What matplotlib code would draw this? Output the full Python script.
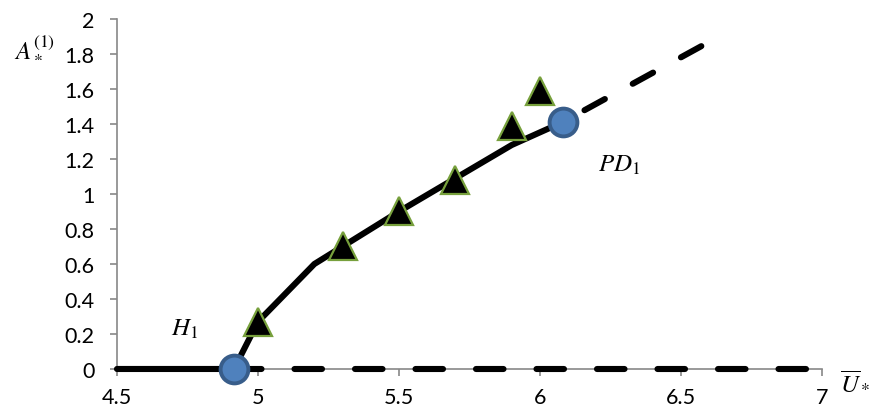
import matplotlib.pyplot as plt
import numpy as np

plt.rcParams['font.family'] = ['Lato', 'DejaVu Sans']
plt.rcParams['mathtext.fontset'] = 'stix'

# stable branch (solid) and unstable branches (dashed)
solid_x = [4.5, 4.915, 5.0, 5.2, 5.3, 5.5, 5.7, 5.9, 6.08]
solid_y = [0.0, 0.0, 0.27, 0.6, 0.7, 0.9, 1.09, 1.28, 1.41]
upper_dash_x = [6.08, 6.595]
upper_dash_y = [1.41, 1.865]
zero_dash_x = [4.915, 6.95]
zero_dash_y = [0.0, 0.0]

# numerical points (triangles)
tri_x = [5.0, 5.3, 5.5, 5.7, 5.9, 6.0]
tri_y = [0.27, 0.70, 0.90, 1.08, 1.39, 1.59]

# bifurcation points
bif_x = [4.915, 6.08]
bif_y = [0.0, 1.41]

xticks = [4.5, 5, 5.5, 6, 6.5, 7]
xtick_labels = ['4.5', '5', '5.5', '6', '6.5', '7']
yticks = [0, 0.2, 0.4, 0.6, 0.8, 1, 1.2, 1.4, 1.6, 1.8, 2]
ytick_labels = ['0', '0.2', '0.4', '0.6', '0.8', '1', '1.2', '1.4', '1.6', '1.8', '2']

fig = plt.figure(figsize=(8.71, 4.10), dpi=100)
ax = fig.add_axes([0.1343, 0.0976, 0.8094, 0.8536])

lw = 4.4
ax.plot(solid_x, solid_y, color='k', lw=lw, solid_capstyle='round', solid_joinstyle='round', zorder=3, clip_on=False)
ax.plot(upper_dash_x, upper_dash_y, color='k', lw=lw, linestyle=(4.9, (3.8, 5.2)), dash_capstyle='round',
        zorder=3, clip_on=False)
ax.plot(zero_dash_x, zero_dash_y, color='k', lw=lw, dashes=(4.5, 5.4), dash_capstyle='round', zorder=3, clip_on=False)

ax.plot(tri_x, tri_y, linestyle='', marker='^', markersize=20, markerfacecolor='k',
        markeredgecolor='#77a03c', markeredgewidth=1.6, zorder=4, clip_on=False)
ax.plot(bif_x, bif_y, linestyle='', marker='o', markersize=20, markerfacecolor='#4f81bd',
        markeredgecolor='#385d8a', markeredgewidth=2.8, zorder=5, clip_on=False)

ax.set_xlim(4.5, 7)
ax.set_ylim(0, 2)
ax.set_xticks(xticks)
ax.set_xticklabels(xtick_labels)
ax.set_yticks(yticks)
ax.set_yticklabels(ytick_labels)

for s in ['top', 'right']:
    ax.spines[s].set_visible(False)
for s in ['left', 'bottom']:
    ax.spines[s].set_color('#888888')
    ax.spines[s].set_linewidth(1.2)
ax.tick_params(axis='both', colors='#888888', labelcolor='k', labelsize=15.5, length=5, width=1.2, direction='out')
ax.tick_params(axis='x', pad=8)
ax.tick_params(axis='y', pad=11)

ax.text(4.74, 0.23, r'$H_1$', fontsize=18, ha='center', va='center')
ax.text(6.28, 1.17, r'$PD_1$', fontsize=18, ha='center', va='center')
fig.text(35 / 871, 1 - 47 / 410, r'$A_*^{(1)}$', fontsize=18, ha='center', va='center')
fig.text(855 / 871, 1 - 382 / 410, r'$\overline{U}_*$', fontsize=18, ha='center', va='center')

fig.savefig('out.png', dpi=100)
